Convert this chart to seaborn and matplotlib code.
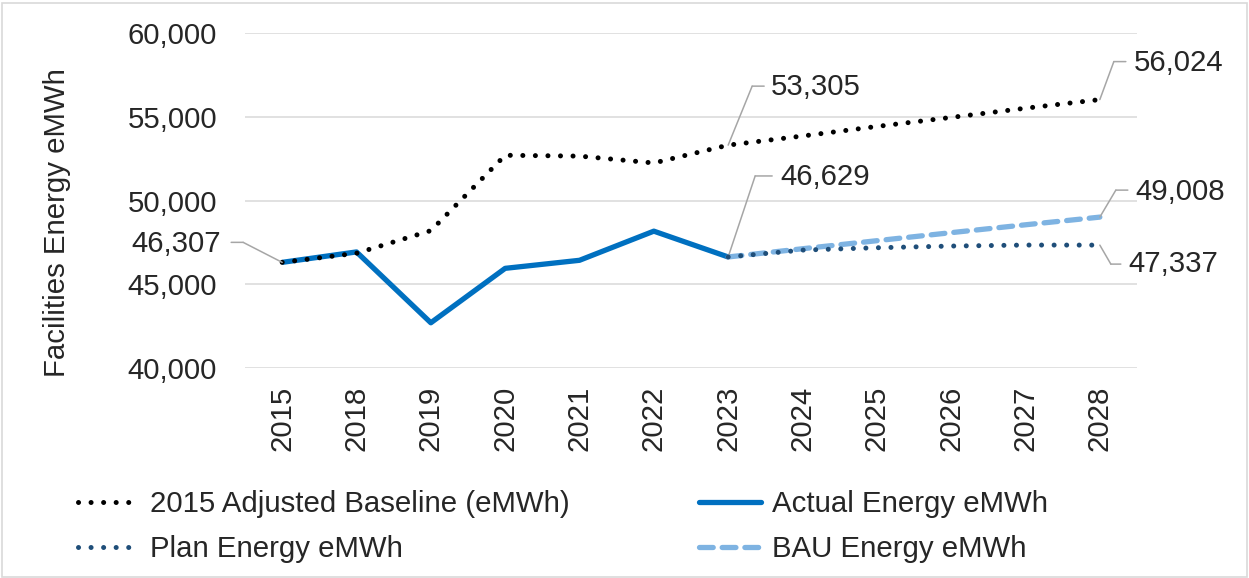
import numpy as np
import pandas as pd
import matplotlib
matplotlib.use("Agg")
import matplotlib.pyplot as plt
from matplotlib.patches import Rectangle
from matplotlib.text import OffsetFrom
from matplotlib.lines import Line2D
import seaborn as sns

# ---- data ----
years = ["2015", "2018", "2019", "2020", "2021", "2022",
         "2023", "2024", "2025", "2026", "2027", "2028"]
baseline = [46307, 46850, 48200, 52700, 52650, 52240,
            53305, 53850, 54420, 54960, 55510, 56024]
actual_years = ["2015", "2018", "2019", "2020", "2021", "2022", "2023"]
actual = [46307, 46930, 42700, 45950, 46430, 48170, 46629]
proj_years = ["2023", "2024", "2025", "2026", "2027", "2028"]
plan = [46629, 47040, 47180, 47280, 47340, 47337]
bau = [46629, 47120, 47600, 48080, 48550, 49008]

yticks = [40000, 45000, 50000, 55000, 60000]

names = {
    "base": "2015 Adjusted Baseline (eMWh)",
    "actual": "Actual Energy eMWh",
    "plan": "Plan Energy eMWh",
    "bau": "BAU Energy eMWh",
}

# ---- style ----
sns.set_theme(style="white")
plt.rcParams["font.family"] = ["Liberation Sans", "DejaVu Sans"]
FS = 21.2
C_BASE = "#000000"
C_ACT = "#0070C0"
C_PLAN = "#1F4E79"
C_BAU = "#7EB3E2"
C_GRID = "#D9D9D9"
C_LEAD = "#A6A6A6"

fig = plt.figure(figsize=(12.49, 5.78), dpi=100)
ax = fig.add_axes([245 / 1249, 1 - 368 / 578, 892 / 1249, 335 / 578])

df_base = pd.DataFrame({"year": years, "v": baseline})
df_act = pd.DataFrame({"year": actual_years, "v": actual})
df_plan = pd.DataFrame({"year": proj_years, "v": plan})
df_bau = pd.DataFrame({"year": proj_years, "v": bau})

dot = (0, (0.01, 2.5))
dash = (0, (2.6, 1.7))
sns.lineplot(data=df_base, x="year", y="v", ax=ax, color=C_BASE, lw=3.6,
             linestyle=dot, dash_capstyle="round", zorder=3, sort=False)
sns.lineplot(data=df_act, x="year", y="v", ax=ax, color=C_ACT, lw=3.8,
             zorder=2, sort=False, solid_capstyle="butt")
sns.lineplot(data=df_bau, x="year", y="v", ax=ax, color=C_BAU, lw=3.8,
             linestyle=dash, dash_capstyle="round", zorder=3, sort=False)
sns.lineplot(data=df_plan, x="year", y="v", ax=ax, color=C_PLAN, lw=3.6,
             linestyle=dot, dash_capstyle="round", zorder=4, sort=False)

ax.set_xlim(-0.5, len(years) - 0.5)
ax.set_ylim(yticks[0], yticks[-1])
ax.set_yticks(yticks)
ax.set_yticklabels([f"{t:,}" for t in yticks], fontsize=FS)
ax.set_xticks(range(len(years)))
ax.set_xticklabels(years, rotation=90, fontsize=FS)
ax.tick_params(axis="y", length=0, pad=20)
ax.tick_params(axis="x", length=0, pad=12.5)
ax.set_xlabel("")
ax.set_ylabel("")
ax.grid(axis="y", color=C_GRID, lw=1.1)
ax.grid(axis="x", visible=False)
for s in ax.spines.values():
    s.set_visible(False)
ax.set_axisbelow(True)

fig.text(57 / 1249, 1 - 223 / 578, "Facilities Energy eMWh", rotation=90,
         ha="center", va="center", fontsize=FS)


def value_label(xi, yi, elbow, end, text_off, ha):
    of = OffsetFrom(ax.transData, (xi, yi), unit="pixels")
    lp = dict(arrowstyle="-", color=C_LEAD, lw=1.1, shrinkA=0, shrinkB=0)
    ax.annotate("", xy=(0, 0), xycoords=of, xytext=elbow, textcoords=of,
                arrowprops=lp, annotation_clip=False)
    ax.annotate("", xy=elbow, xycoords=of, xytext=end, textcoords=of,
                arrowprops=lp, annotation_clip=False)
    ax.annotate(f"{yi:,.0f}", xy=(xi, yi), xytext=text_off,
                textcoords="offset pixels", ha=ha, va="center",
                fontsize=FS, annotation_clip=False)


i23 = years.index("2023")
i28 = years.index("2028")
value_label(0, actual[0], (-39, 20), (-51, 20), (-61, 18), "right")
value_label(i23, baseline[i23], (24, 59), (36, 59), (43, 58), "left")
value_label(i23, actual[-1], (27, 81), (44, 81), (52, 80), "left")
value_label(i28, baseline[-1], (14, 38), (26, 38), (34, 37), "left")
value_label(i28, bau[-1], (16, 27), (28, 27), (36, 25), "left")
value_label(i28, plan[-1], (11, -19), (21, -19), (29, -19), "left")

handles = [
    Line2D([], [], color=C_BASE, lw=3.6, linestyle=dot, dash_capstyle="round"),
    Line2D([], [], color=C_PLAN, lw=3.6, linestyle=dot, dash_capstyle="round"),
    Line2D([], [], color=C_ACT, lw=3.8),
    Line2D([], [], color=C_BAU, lw=3.8, linestyle=dash, dash_capstyle="round"),
]
labels = [names["base"], names["plan"], names["actual"], names["bau"]]
fig.legend(handles, labels, ncol=2, loc="upper left",
           bbox_to_anchor=(78 / 1249, 1 - 490 / 578), frameon=False,
           fontsize=FS, handlelength=2.1, handletextpad=0.35,
           columnspacing=4.4, labelspacing=0.58, borderpad=0, borderaxespad=0)

fig.patches.append(Rectangle((1.5 / 1249, 1.5 / 578), 1 - 3.5 / 1249, 1 - 4 / 578,
                             transform=fig.transFigure, fill=False,
                             edgecolor=C_GRID, lw=1.2))

fig.savefig("out.png", dpi=100)
